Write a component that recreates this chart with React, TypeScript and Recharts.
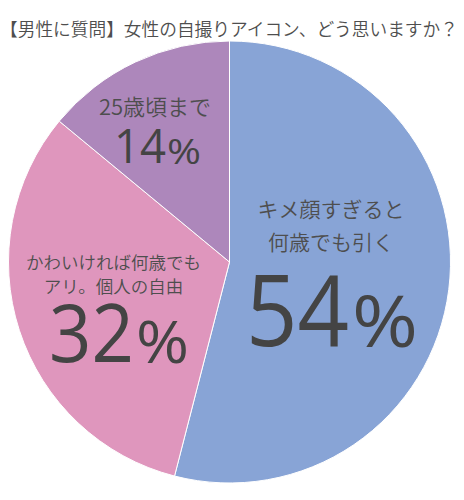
import React from "react";
import { PieChart, Pie, Cell } from "recharts";

const title = "【男性に質問】女性の自撮りアイコン、どう思いますか？";
const categories = ["キメ顔すぎると何歳でも引く", "かわいければ何歳でもアリ。個人の自由", "25歳頃まで"];
const captionLines = [["キメ顔すぎると", "何歳でも引く"], ["かわいければ何歳でも", "アリ。個人の自由"], ["25歳頃まで"]];
const values = [54, 32, 14];
const colors = ["#88a4d6", "#df96bd", "#ad87bb"];
const rows = categories.map((name, i) => ({ name, value: values[i] }));

const CJK = "'Noto Sans CJK JP', sans-serif";
const NUM = "'Open Sans', sans-serif";
const INK = "#444444";
const CAP_INK = "#4e4e4e";

const labelStyles = [
  { capX: 331, capY: 217, lead: 33, capSize: 21, numX: 246, numY: 346, numSize: 98, numW: 103, pctX: 352, pctSize: 72, pctW: 66 },
  { capX: 113.5, capY: 269, lead: 24, capSize: 17.5, numX: 49, numY: 362, numSize: 80, numW: 85, pctX: 136, pctSize: 59, pctW: 53 },
  { capX: 155, capY: 115, lead: 0, capSize: 22, numX: 114, numY: 163, numSize: 48, numW: 52, pctX: 167, pctSize: 35, pctW: 34 },
];

function renderLabel(props: any) {
  const i = props.index as number;
  const s = labelStyles[i];
  return (
    <g key={i}>
      {captionLines[i].map((t, k) => (
        <text key={t} x={s.capX} y={s.capY + k * s.lead} fill={CAP_INK} fontFamily={CJK} fontSize={s.capSize} fontWeight={350} textAnchor="middle">
          {t}
        </text>
      ))}
      <text x={s.numX} y={s.numY} fill={INK} fontFamily={NUM} fontSize={s.numSize} fontWeight={500} textLength={s.numW} lengthAdjust="spacingAndGlyphs">
        {values[i]}
      </text>
      <text x={s.pctX} y={s.numY + 1} fill={INK} fontFamily={NUM} fontSize={s.pctSize} textLength={s.pctW} lengthAdjust="spacingAndGlyphs">
        %
      </text>
    </g>
  );
}

export default function App() {
  return (
    <div style={{ position: "absolute", left: 0, top: 0, width: 464, height: 500, background: "#fff" }}>
      <PieChart width={464} height={500} margin={{ top: 0, right: 0, bottom: 0, left: 0 }}>
        <Pie
          data={rows}
          dataKey="value"
          nameKey="name"
          cx={229.5}
          cy={262}
          innerRadius={0}
          outerRadius={221}
          startAngle={90}
          endAngle={-270}
          stroke="#ffffff"
          strokeWidth={1}
          isAnimationActive={false}
          labelLine={false}
          label={renderLabel}
        >
          {rows.map((r, i) => (
            <Cell key={r.name} fill={colors[i]} />
          ))}
        </Pie>
        <text x={0} y={36} fill="#4e4e4e" fontFamily={CJK} fontSize={17.7} fontWeight={350}>{title}</text>
      </PieChart>
    </div>
  );
}
